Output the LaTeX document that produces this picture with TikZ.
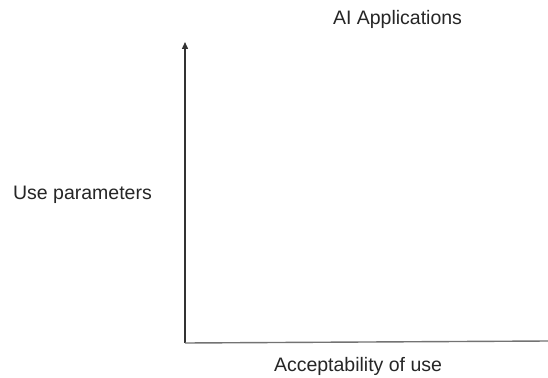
\documentclass[tikz,border=0pt]{standalone}
\usepackage{fontspec}
\setmainfont{Liberation Sans}
\usetikzlibrary{arrows.meta}
\begin{document}
\begin{tikzpicture}[x=1pt,y=-1pt,
  lbl/.style={inner sep=0pt, font=\fontsize{19.5}{23}\selectfont, text=black!85},
  axis/.style={line width=1.4pt, draw=black!80}]
\useasboundingbox[fill=white] (0,0) rectangle (548,377);
% axes
\coordinate (origin) at (185,343);
\coordinate (ytop) at (185,42);
\coordinate (xend) at (548,341);
\draw[axis, -{Triangle[length=7pt,width=6pt]}] (origin) -- (ytop);
\draw[axis, draw=black!55] (origin) -- (xend);
% labels
\node[lbl] (title) at (397.5,19) {AI Applications};
\node[lbl] (ylabel) at (82.5,195) {Use parameters};
\node[lbl] (xlabel) at (358,366) {Acceptability of use};
\end{tikzpicture}
\end{document}
